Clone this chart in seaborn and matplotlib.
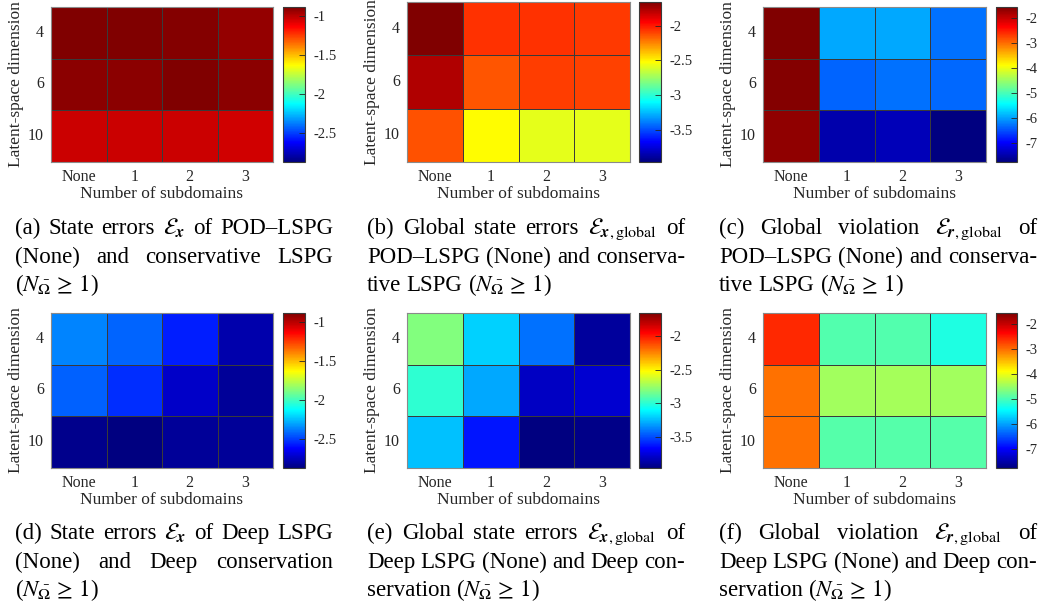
import matplotlib
matplotlib.use('Agg')
import matplotlib.pyplot as plt
from matplotlib.colors import ListedColormap
import seaborn as sns
import numpy as np
import pandas as pd

# axis categories
subdomains = ['None', '1', '2', '3']
latent_dims = ['4', '6', '10']

# log10 values (rows = latent dim 4, 6, 10)
pod_state = [[-0.88, -0.88, -0.89, -0.92],
             [-0.91, -0.91, -0.88, -0.91],
             [-1.03, -1.03, -1.03, -1.04]]
pod_global = [[-1.66, -2.06, -2.06, -2.08],
              [-1.77, -2.14, -2.09, -2.10],
              [-2.13, -2.52, -2.58, -2.58]]
pod_violation = [[-1.57, -5.96, -5.96, -6.31],
                 [-1.60, -6.37, -6.31, -6.35],
                 [-1.67, -7.48, -7.43, -7.75]]
deep_state = [[-2.36, -2.42, -2.56, -2.78],
              [-2.43, -2.53, -2.73, -2.82],
              [-2.84, -2.87, -2.82, -2.82]]
deep_global = [[-2.81, -3.20, -3.42, -3.89],
               [-2.99, -3.29, -3.80, -3.78],
               [-3.24, -3.62, -3.96, -3.94]]
deep_violation = [[-2.59, -4.96, -4.96, -5.26],
                  [-3.03, -4.47, -4.45, -4.47],
                  [-3.03, -4.93, -4.93, -4.93]]

# colour ranges and colorbar ticks
state_range = (-2.87, -0.88)
state_ticks = [-2.5, -2, -1.5, -1]
global_range = (-3.96, -1.66)
global_ticks = [-3.5, -3, -2.5, -2]
viol_range = (-7.77, -1.57)
viol_ticks = [-7, -6, -5, -4, -3, -2]

E_x = r'$\mathcal{E}_{\boldsymbol{x}}$'
E_xg = r'$\mathcal{E}_{\boldsymbol{x},\mathrm{global}}$'
E_rg = r'$\mathcal{E}_{\boldsymbol{r},\mathrm{global}}$'
N_ge = r'($N_{\bar{\Omega}}\,\geq\,1$)'

# caption lines: (words, justified)
captions = [
    [(['(a)', 'State', 'errors', E_x, 'of', 'POD–LSPG'], True),
     (['(None)', 'and', 'conservative', 'LSPG'], True),
     ([N_ge], False)],
    [(['(b)', 'Global', 'state', 'errors', E_xg, 'of'], True),
     (['POD–LSPG', '(None)', 'and', 'conserva-'], True),
     (['tive', 'LSPG', N_ge], False)],
    [(['(c)', 'Global', 'violation', E_rg, 'of'], True),
     (['POD–LSPG', '(None)', 'and', 'conserva-'], True),
     (['tive', 'LSPG', N_ge], False)],
    [(['(d)', 'State', 'errors', E_x, 'of', 'Deep', 'LSPG'], True),
     (['(None)', 'and', 'Deep', 'conservation'], True),
     ([N_ge], False)],
    [(['(e)', 'Global', 'state', 'errors', E_xg, 'of'], True),
     (['Deep', 'LSPG', '(None)', 'and', 'Deep', 'con-'], True),
     (['servation', N_ge], False)],
    [(['(f)', 'Global', 'violation', E_rg, 'of'], True),
     (['Deep', 'LSPG', '(None)', 'and', 'Deep', 'con-'], True),
     (['servation', N_ge], False)],
]

plt.rcParams['font.family'] = ['Liberation Serif', 'DejaVu Serif']
plt.rcParams['mathtext.fontset'] = 'stix'
plt.rcParams['axes.unicode_minus'] = False

# MATLAB-style jet
t = np.linspace(0, 1, 256)
jet = ListedColormap(np.stack([np.clip(1.5 - np.abs(4 * t - 3), 0, 1),
                               np.clip(1.5 - np.abs(4 * t - 2), 0, 1),
                               np.clip(1.5 - np.abs(4 * t - 1), 0, 1)], axis=1))

W, H = 1055, 604
fig = plt.figure(figsize=(W / 100, H / 100), dpi=100)


def px_axes(x0, y0, x1, y1):
    return fig.add_axes([x0 / W, 1 - y1 / H, (x1 - x0) / W, (y1 - y0) / H])


panels = [
    (pod_state, state_range, state_ticks, (51, 7, 273, 162), (283, 7, 305, 162)),
    (pod_global, global_range, global_ticks, (407, 2, 630, 162), (639, 2, 661, 162)),
    (pod_violation, viol_range, viol_ticks, (763, 7, 986, 162), (996, 7, 1017, 162)),
    (deep_state, state_range, state_ticks, (51, 313, 273, 468), (283, 313, 305, 468)),
    (deep_global, global_range, global_ticks, (407, 313, 630, 468), (639, 313, 661, 468)),
    (deep_violation, viol_range, viol_ticks, (763, 313, 986, 468), (996, 313, 1017, 468)),
]

txt_col = '#262626'
for data, (vmin, vmax), ticks, hbox, cbox in panels:
    ax = px_axes(*hbox)
    cax = px_axes(*cbox)
    df = pd.DataFrame(data, index=latent_dims, columns=subdomains)
    sns.heatmap(df, ax=ax, cbar_ax=cax, cmap=jet, vmin=vmin, vmax=vmax,
                linewidths=0.6, linecolor='#3a3a3a',
                cbar_kws={'ticks': ticks, 'format': '%g'})
    for sp in ax.spines.values():
        sp.set_visible(True)
        sp.set_color('#8a8a8a')
        sp.set_linewidth(0.8)
    ax.tick_params(length=0, labelsize=11.5, colors=txt_col, pad=5)
    ax.set_yticklabels(latent_dims, rotation=0)
    ax.set_xticklabels(subdomains, rotation=0)
    axw = hbox[2] - hbox[0]
    axh = hbox[3] - hbox[1]
    ax.set_xlabel('Number of subdomains', fontsize=12.5, color=txt_col)
    ax.set_ylabel('Latent-space dimension', fontsize=12.5, color=txt_col)
    ax.xaxis.set_label_coords(0.5, -(186 - 162) / axh)
    ax.yaxis.set_label_coords(-27 / axw, 0.5)
    cb = ax.collections[0].colorbar
    cb.outline.set_visible(True)
    cb.outline.set_linewidth(0.8)
    cb.outline.set_edgecolor('#3a3a3a')
    cax.tick_params(direction='in', length=4, width=0.6, labelsize=10.5,
                    colors=txt_col, pad=6)

# captions with justified lines
renderer = fig.canvas.get_renderer()
cap_x = [(15, 333), (367, 685), (719, 1037)]
cap_y = [(234, 263, 291), (539, 568, 596)]
space = 5.5
for i, lines in enumerate(captions):
    x0, x1 = cap_x[i % 3]
    ys = cap_y[i // 3]
    for (words, justify), y in zip(lines, ys):
        texts = [fig.text(0, 1 - y / H, w, fontsize=16.5, color='black',
                          ha='left', va='baseline') for w in words]
        widths = [tx.get_window_extent(renderer).width for tx in texts]
        if justify and len(words) > 1:
            gap = (x1 - x0 - sum(widths)) / (len(words) - 1)
        else:
            gap = space
        x = x0
        for tx, w in zip(texts, widths):
            tx.set_x(x / W)
            x += w + gap

fig.savefig('out.png', dpi=100)
